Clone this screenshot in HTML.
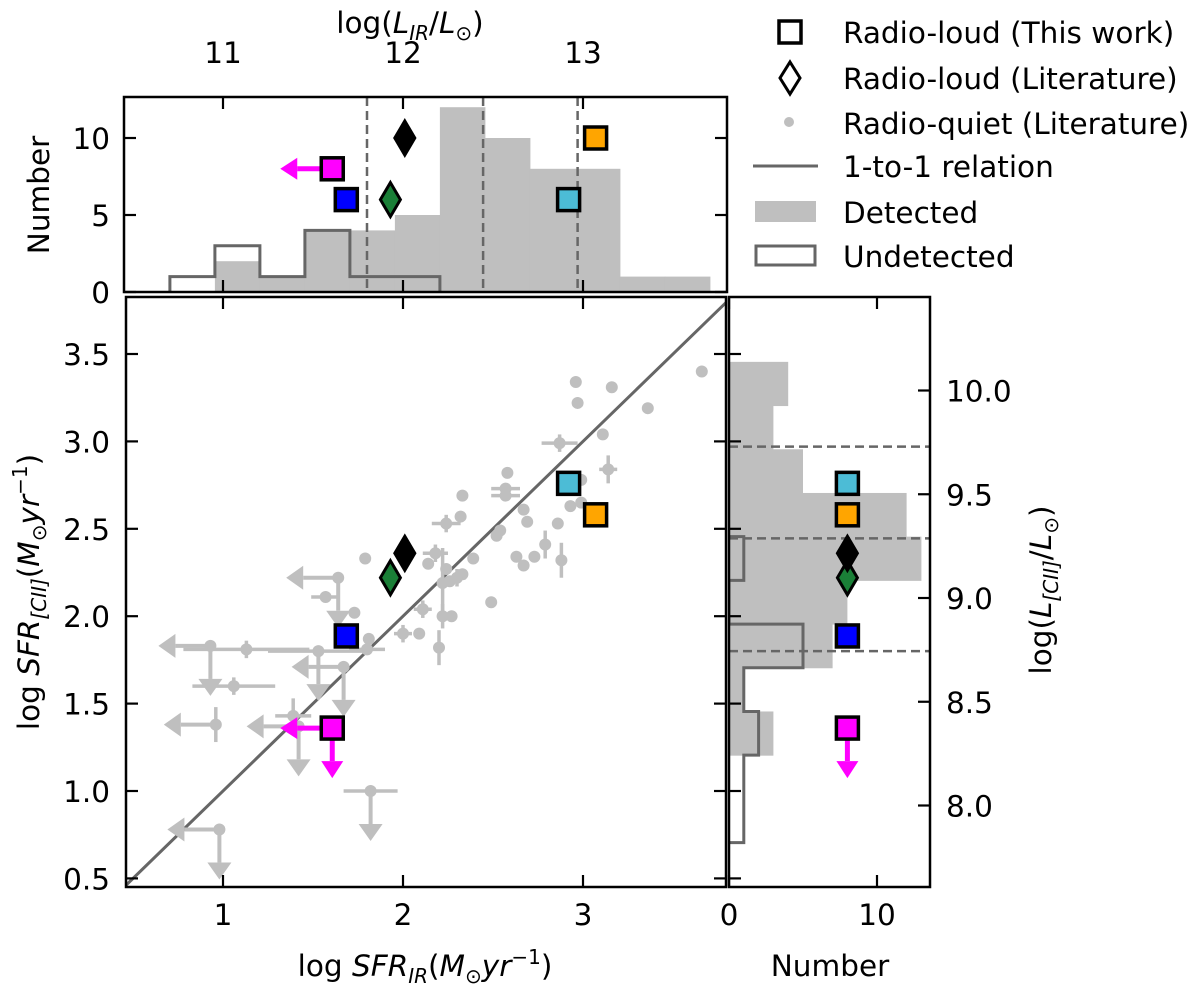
<!DOCTYPE html>
<html><head><meta charset="utf-8">
<style>
html,body{margin:0;padding:0;background:#fff;}
svg{display:block;font-family:"DejaVu Sans","Liberation Sans",sans-serif;}
</style></head>
<body>
<svg id="fig" width="1200" height="988" viewBox="0 0 1200 988" xmlns="http://www.w3.org/2000/svg">
<g id="layer-hist"></g>
<g id="layer-main"></g>
<g id="layer-axes"></g>
<g id="layer-legend" font-size="29.5">
  <rect x="779" y="21" width="22" height="22" fill="none" stroke="#000" stroke-width="3.5"/>
  <text x="843" y="43">Radio-loud (This work)</text>
  <polygon points="790,62 800,78 790,94 780,78" fill="none" stroke="#000" stroke-width="3"/>
  <text x="843" y="89">Radio-loud (Literature)</text>
  <circle cx="789" cy="122" r="5" fill="#bfbfbf"/>
  <text x="843" y="134">Radio-quiet (Literature)</text>
  <line x1="753" y1="166" x2="818" y2="166" stroke="#666" stroke-width="3"/>
  <text x="843" y="177">1-to-1 relation</text>
  <rect x="755" y="201" width="61" height="21" fill="#bfbfbf"/>
  <text x="843" y="223">Detected</text>
  <rect x="756" y="246" width="59" height="19" fill="none" stroke="#666" stroke-width="3"/>
  <text x="843" y="267">Undetected</text>
</g>
</svg>
<script>
// ---------- data ----------
var topDetEdgeStart = 0.955;
var topDetCounts = [2,1,4,4,5,12,10,8,8,1,1];
var topUndEdgeStart = 0.705;
var topUndCounts = [1,3,1,4,1,1];
var rightDetEdgeStart = 1.205;
var rightDetCounts = [3,1,7,8,13,12,5,3,4];
var rightUndEdgeStart = 0.705;
var rightUndCounts = [1,1,2,1,5,0,1];
var binWidth = 0.25;
var dashedLevels = [1.80, 2.445, 2.97];

var srcNames = ['magenta','blue','green','black','cyan','orange'];
var srcX = [1.607, 1.685, 1.93, 2.01, 2.92, 3.07];
var srcY = [1.36, 1.887, 2.22, 2.36, 2.76, 2.58];
var srcColor = ['#ff00ff','#0000ff','#1a7f37','#000000','#4cbcd6','#ffa500'];
var srcShape = ['s','s','d','d','s','s'];
var srcLimit = [true,false,false,false,false,false];
var srcTopN = [8,6,6,10,6,10];
var srcRightN = [8,8,8,8,8,8];

var rqX = [3.66,2.96,3.16,2.97,3.36,3.11,2.87,3.14,2.99,2.93,2.99,2.86,2.67,2.69,2.58,2.57,2.57,2.33,2.32,2.24,2.54,2.52,2.39,2.63,2.67,2.73,2.79,2.88,2.18,2.14,2.24,2.33,2.30,2.22,2.26,2.49,2.11,2.22,2.27,1.79,2.00,2.09,2.20,1.81,1.80,1.57,1.73,1.13,1.06,1.39];
var rqY = [3.40,3.34,3.31,3.22,3.19,3.04,2.99,2.84,2.78,2.63,2.65,2.53,2.61,2.54,2.82,2.73,2.69,2.69,2.57,2.53,2.49,2.46,2.33,2.34,2.29,2.34,2.41,2.32,2.36,2.30,2.27,2.24,2.22,2.19,2.20,2.08,2.04,2.00,2.00,2.33,1.90,1.90,1.82,1.87,1.81,2.11,2.02,1.81,1.60,1.43];
var rqXe = [0,0,0,0,0,0,0.10,0.05,0,0,0,0,0,0,0,0.08,0.08,0,0,0.08,0,0,0,0,0,0,0,0,0.07,0,0,0,0.05,0,0,0,0.05,0,0,0,0.05,0,0,0,0.10,0.08,0.03,0.35,0.23,0.10];
var rqYe = [0,0,0,0,0,0,0.05,0.08,0,0,0,0,0,0,0,0,0,0,0,0.05,0,0,0,0,0,0,0.08,0.10,0.05,0,0,0,0.05,0.20,0,0,0.05,0.07,0,0,0.05,0,0.10,0,0,0,0.03,0.05,0.05,0.10];

var limX = [1.64,0.93,1.53,1.67,0.96,1.42,1.82,0.98];
var limY = [2.22,1.83,1.80,1.71,1.38,1.37,1.00,0.78];
var limLeft = [1,1,0,1,1,1,0,1];
var limDown = [1,1,1,1,0,1,1,1];
var limXe = [0,0,0.28,0,0,0,0.15,0];
var limYe = [0,0,0,0,0.10,0,0,0];

var xTicksMain = [1,2,3];
var yTicksMain = [1.0,1.5,2.0,2.5,3.0,3.5];
var yTickLabelsMain = ['1.0','1.5','2.0','2.5','3.0','3.5'];
var yTicksMainExtra = [0.5];
var topXTicks = [11,12,13];
var topYTicks = [0,5,10];
var rightXTicks = [0,10];
var lciiTicks = [8.0,8.5,9.0,9.5,10.0];
var lciiTickLabels = ['8.0','8.5','9.0','9.5','10.0'];

// ---------- scales ----------
var M = {l:126, r:726, t:297, b:887};
var T = {l:124, r:727, t:97, b:292};
var R = {l:729, r:930, t:297, b:887};
function xs(v){ return 223 + (v-1)*180; }
function ys(v){ return 791 - (v-1)*174.8; }
function yt(n){ return 292 - n*15.4; }
function xr(n){ return 729 + n*14.8; }
function xLir(v){ return xs(v-10); }
function yL(v){ return 805.5 - (v-8)*207.5; }

var NS = 'http://www.w3.org/2000/svg';
function mk(parent, tag, attrs){
  var e = document.createElementNS(NS, tag);
  for (var k in attrs) e.setAttribute(k, attrs[k]);
  parent.appendChild(e);
  return e;
}
var svg = document.getElementById('fig');
var gH = document.getElementById('layer-hist');
var gM = document.getElementById('layer-main');
var gA = document.getElementById('layer-axes');

var defs = document.createElementNS(NS,'defs');
svg.insertBefore(defs, gH);
function clip(id, b){ var c = mk(defs,'clipPath',{id:id}); mk(c,'rect',{x:b.l,y:b.t,width:b.r-b.l,height:b.b-b.t}); }
clip('cm',M); clip('ct',T); clip('cr',R);

// ---------- top histograms ----------
var gTop = mk(gH,'g',{'clip-path':'url(#ct)'});


topDetCounts.forEach(function(c,i){
  var x0 = xs(topDetEdgeStart + i*binWidth), x1 = xs(topDetEdgeStart + (i+1)*binWidth);
  var r = mk(gTop,'rect',{x:x0,y:yt(c),width:x1-x0+0.5,height:yt(0)-yt(c),fill:'#bfbfbf'});
  
  
});
(function(){
  var d = 'M'+xs(topUndEdgeStart)+','+yt(0);
  topUndCounts.forEach(function(c,i){
    d += ' L'+xs(topUndEdgeStart+i*binWidth)+','+yt(c)+' L'+xs(topUndEdgeStart+(i+1)*binWidth)+','+yt(c);
  });
  d += ' L'+xs(topUndEdgeStart+topUndCounts.length*binWidth)+','+yt(0);
  var p = mk(gTop,'path',{d:d,fill:'none',stroke:'#666',"stroke-width":3});
  
  
})();
dashedLevels.forEach(function(v){
  var l = mk(gTop,'line',{x1:xs(v),x2:xs(v),y1:T.t,y2:T.b,stroke:'#666','stroke-width':2.5,'stroke-dasharray':'9,5'});
  
  
});

// ---------- right histograms ----------
var gR = mk(gH,'g',{'clip-path':'url(#cr)'});


rightDetCounts.forEach(function(c,i){
  var y0 = ys(rightDetEdgeStart + (i+1)*binWidth), y1 = ys(rightDetEdgeStart + i*binWidth);
  var r = mk(gR,'rect',{x:xr(0),y:y0,width:xr(c)-xr(0),height:y1-y0+0.5,fill:'#bfbfbf'});
  
  
});
(function(){
  var d = 'M'+xr(0)+','+ys(rightUndEdgeStart);
  rightUndCounts.forEach(function(c,i){
    d += ' L'+xr(c)+','+ys(rightUndEdgeStart+i*binWidth)+' L'+xr(c)+','+ys(rightUndEdgeStart+(i+1)*binWidth);
  });
  d += ' L'+xr(0)+','+ys(rightUndEdgeStart+rightUndCounts.length*binWidth);
  var p = mk(gR,'path',{d:d,fill:'none',stroke:'#666',"stroke-width":3});
  
  
})();
dashedLevels.forEach(function(v){
  var l = mk(gR,'line',{x1:R.l,x2:R.r,y1:ys(v),y2:ys(v),stroke:'#666','stroke-width':2.5,'stroke-dasharray':'9,5'});
  
  
});

// ---------- main scatter ----------
var gMc = mk(gM,'g',{'clip-path':'url(#cm)'});
var GR = '#bfbfbf';
function arrowLeft(g,x,y,len,col,w,hw,hl){
  var xe = x - len;
  mk(g,'line',{x1:x,y1:y,x2:xe+hl,y2:y,stroke:col,'stroke-width':w});
  mk(g,'polygon',{points:(xe)+','+y+' '+(xe+hl)+','+(y-hw)+' '+(xe+hl)+','+(y+hw),fill:col});
}
function arrowDown(g,x,y,len,col,w,hw,hl){
  var ye = y + len;
  mk(g,'line',{x1:x,y1:y,x2:x,y2:ye-hl,stroke:col,'stroke-width':w});
  mk(g,'polygon',{points:x+','+ye+' '+(x-hw)+','+(ye-hl)+' '+(x+hw)+','+(ye-hl),fill:col});
}
var one = mk(gMc,'line',{x1:xs(0.45),y1:ys(0.45),x2:xs(3.85),y2:ys(3.85),stroke:'#666','stroke-width':3});



rqX.forEach(function(x,i){
  var g = mk(gMc,'g',{});
  
  
  var px = xs(x), py = ys(rqY[i]);
  if (rqXe[i]>0) mk(g,'line',{x1:xs(x-rqXe[i]),x2:xs(x+rqXe[i]),y1:py,y2:py,stroke:GR,'stroke-width':3.5});
  if (rqYe[i]>0) mk(g,'line',{x1:px,x2:px,y1:ys(rqY[i]-rqYe[i]),y2:ys(rqY[i]+rqYe[i]),stroke:GR,'stroke-width':3.5});
  mk(g,'circle',{cx:px,cy:py,r:6,fill:GR});
});
limX.forEach(function(x,i){
  var g = mk(gMc,'g',{});
  
  
  var px = xs(x), py = ys(limY[i]);
  if (limXe[i]>0) mk(g,'line',{x1:xs(x-limXe[i]),x2:xs(x+limXe[i]),y1:py,y2:py,stroke:GR,'stroke-width':3.5});
  if (limYe[i]>0) mk(g,'line',{x1:px,x2:px,y1:ys(limY[i]-limYe[i]),y2:ys(limY[i]+limYe[i]),stroke:GR,'stroke-width':3.5});
  if (limLeft[i]) arrowLeft(g,px,py,52,GR,4,12,17);
  if (limDown[i]) arrowDown(g,px,py,50,GR,4,12,17);
  mk(g,'circle',{cx:px,cy:py,r:6,fill:GR});
});

function drawMarker(g,shape,px,py,col,name){
  var e;
  if (shape==='s') e = mk(g,'rect',{x:px-11,y:py-11,width:22,height:22,fill:col,stroke:'#000','stroke-width':3.5});
  else e = mk(g,'polygon',{points:px+','+(py-17)+' '+(px+10)+','+py+' '+px+','+(py+17)+' '+(px-10)+','+py,fill:col,stroke:'#000','stroke-width':3});
  
  
}
srcX.forEach(function(x,i){
  var px = xs(x), py = ys(srcY[i]);
  if (srcLimit[i]) { arrowLeft(gM,px,py,52,srcColor[i],5,11,17); arrowDown(gM,px,py,50,srcColor[i],5,11,17); }
  drawMarker(gM,srcShape[i],px,py,srcColor[i],'source-'+srcNames[i]);
  var tx = xs(x), ty = yt(srcTopN[i]);
  if (srcLimit[i]) arrowLeft(gM,tx,ty,52,srcColor[i],5,11,17);
  drawMarker(gM,srcShape[i],tx,ty,srcColor[i],'top-source-'+srcNames[i]);
  var rx = xr(srcRightN[i]);
  if (srcLimit[i]) arrowDown(gM,rx,py,50,srcColor[i],5,11,17);
  drawMarker(gM,srcShape[i],rx,py,srcColor[i],'right-source-'+srcNames[i]);
});

// ---------- axes ----------
function frame(b,name){
  var r = mk(gA,'rect',{x:b.l,y:b.t,width:b.r-b.l,height:b.b-b.t,fill:'none',stroke:'#000','stroke-width':2.5});
  
  
}
frame(M,'main-frame'); frame(T,'top-frame'); frame(R,'right-frame');
function tick(x1,y1,x2,y2){ mk(gA,'line',{x1:x1,y1:y1,x2:x2,y2:y2,stroke:'#000','stroke-width':2.2}); }
var FS = 29.5;
function label(x,y,txt,anchor,name){
  var t = mk(gA,'text',{x:x,y:y,'text-anchor':anchor,'font-size':FS});
  t.textContent = txt;
  
  
  return t;
}
var TL = 12;
xTicksMain.forEach(function(v){
  tick(xs(v),M.b,xs(v),M.b-TL); tick(xs(v),M.t,xs(v),M.t+TL);
  tick(xs(v),T.b,xs(v),T.b-TL); tick(xs(v),T.t,xs(v),T.t+TL);
  label(xs(v),925,String(v),'middle','x-tick-label');
});
yTicksMain.concat(yTicksMainExtra).forEach(function(v){
  tick(M.l,ys(v),M.l+TL,ys(v)); tick(M.r,ys(v),M.r-TL,ys(v));
  tick(R.l,ys(v),R.l+TL,ys(v));
});
yTicksMain.forEach(function(v,i){ label(M.l-16,ys(v)+11,yTickLabelsMain[i],'end','y-tick-label'); });
label(M.l-16,ys(0.5)+11,'0.5','end','y-tick-label');
topYTicks.forEach(function(v){
  tick(T.l,yt(v),T.l+TL,yt(v)); tick(T.r,yt(v),T.r-TL,yt(v));
  label(T.l-14,yt(v)+11,String(v),'end','top-y-tick-label');
});
topXTicks.forEach(function(v){ label(xLir(v),63,String(v),'middle','top-x-tick-label'); });
rightXTicks.forEach(function(v){
  tick(xr(v),R.b,xr(v),R.b-TL); tick(xr(v),R.t,xr(v),R.t+TL);
  label(xr(v),925,String(v),'middle','right-x-tick-label');
});
lciiTicks.forEach(function(v,i){
  tick(R.r,yL(v),R.r-TL,yL(v));
  label(R.r+16,yL(v)+11,lciiTickLabels[i],'start','right-y-tick-label');
});

(function(){
  var SUB = 20;
  var t = mk(gA,'text',{x:425,y:976,'text-anchor':'middle','font-size':FS});
   
  t.innerHTML = 'log <tspan font-style="italic">SFR</tspan><tspan font-style="italic" font-size="'+SUB+'" dy="7">IR</tspan><tspan dy="-7">(</tspan><tspan font-style="italic">M</tspan><tspan font-size="'+SUB+'" dy="7">⊙</tspan><tspan dy="-7" font-style="italic">yr</tspan><tspan font-size="'+SUB+'" dy="-12">−1</tspan><tspan dy="12">)</tspan>';
  var t2 = mk(gA,'text',{x:830,y:976,'text-anchor':'middle','font-size':FS});
   
  t2.textContent = 'Number';
  var t3 = mk(gA,'text',{x:0,y:0,'text-anchor':'middle','font-size':FS,transform:'translate(49,195) rotate(-90)'});
   
  t3.textContent = 'Number';
  var t4 = mk(gA,'text',{x:0,y:0,'text-anchor':'middle','font-size':FS,transform:'translate(39,592) rotate(-90)'});
   
  t4.innerHTML = 'log <tspan font-style="italic">SFR</tspan><tspan font-style="italic" font-size="'+SUB+'" dy="7">[CII]</tspan><tspan dy="-7">(</tspan><tspan font-style="italic">M</tspan><tspan font-size="'+SUB+'" dy="7">⊙</tspan><tspan dy="-7" font-style="italic">yr</tspan><tspan font-size="'+SUB+'" dy="-12">−1</tspan><tspan dy="12">)</tspan>';
  var t5 = mk(gA,'text',{x:410,y:33,'text-anchor':'middle','font-size':FS});
   
  t5.innerHTML = 'log(<tspan font-style="italic">L</tspan><tspan font-style="italic" font-size="'+SUB+'" dy="7">IR</tspan><tspan dy="-7">/</tspan><tspan font-style="italic">L</tspan><tspan font-size="'+SUB+'" dy="7">⊙</tspan><tspan dy="-7">)</tspan>';
  var t6 = mk(gA,'text',{x:0,y:0,'text-anchor':'middle','font-size':FS,transform:'translate(1051,590) rotate(-90)'});
   
  t6.innerHTML = 'log(<tspan font-style="italic">L</tspan><tspan font-style="italic" font-size="'+SUB+'" dy="7">[CII]</tspan><tspan dy="-7">/</tspan><tspan font-style="italic">L</tspan><tspan font-size="'+SUB+'" dy="7">⊙</tspan><tspan dy="-7">)</tspan>';
})();
</script>
</body></html>
